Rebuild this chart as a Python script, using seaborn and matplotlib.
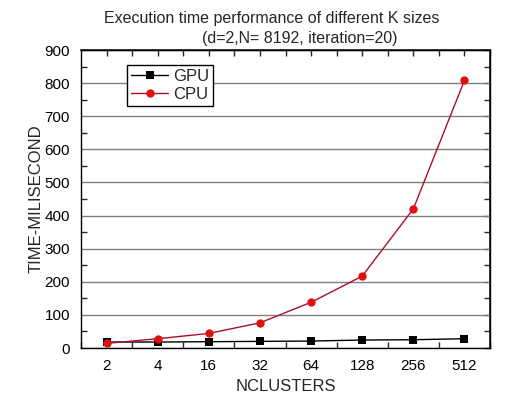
import seaborn as sns
import pandas as pd
import matplotlib.pyplot as plt
from matplotlib.ticker import MultipleLocator

nclusters = ["2", "4", "16", "32", "64", "128", "256", "512"]
gpu_ms = [18, 18, 19, 20, 21, 24, 25, 28]
cpu_ms = [14, 28, 44, 76, 138, 217, 420, 808]

pos = list(range(len(nclusters)))
df = pd.concat([
    pd.DataFrame({"pos": pos, "time": gpu_ms, "Kind": "GPU"}),
    pd.DataFrame({"pos": pos, "time": cpu_ms, "Kind": "CPU"}),
])

sns.set_theme(style="white")
plt.rcParams["font.family"] = ["Liberation Sans", "DejaVu Sans"]

fig = plt.figure(figsize=(5.25, 4.12), dpi=100)
ax = fig.add_axes([81 / 525, 1 - 348 / 412, (490 - 81) / 525, (348 - 50) / 412])

sns.lineplot(data=df[df["Kind"] == "GPU"], x="pos", y="time", ax=ax,
             color="black", marker="s", markersize=5.5, markeredgewidth=0,
             linewidth=1, label="GPU")
sns.lineplot(data=df[df["Kind"] == "CPU"], x="pos", y="time", ax=ax,
             color="#a8102a", marker="o", markersize=6, markerfacecolor="#e01010",
             markeredgecolor="#e01010", markeredgewidth=0, linewidth=1, label="CPU")

ax.set_xlim(-0.5, len(nclusters) - 0.5)
ax.set_ylim(0, 900)
ax.set_xticks(pos)
ax.set_xticklabels(nclusters)
ax.yaxis.set_major_locator(MultipleLocator(100))
ax.yaxis.set_minor_locator(MultipleLocator(50))
ax.xaxis.set_minor_locator(MultipleLocator(0.5))
ax.grid(which="major", axis="y", color="#808080", linewidth=1)
ax.set_axisbelow(True)

for s in ax.spines.values():
    s.set_color("black")
    s.set_linewidth(1)

ax.tick_params(axis="both", which="major", direction="out", length=5, width=1,
               labelsize=11, colors="black", pad=3)
ax.tick_params(axis="both", which="minor", direction="in", length=4, width=1,
               bottom=True, left=True)

# top and right ticks point inward
sec_x = ax.secondary_xaxis("top")
sec_x.set_xticks([p / 2 - 0.5 for p in range(1, 2 * len(nclusters) + 1)])
sec_x.tick_params(direction="in", length=4, width=1)
sec_x.set_xticklabels([])
sec_y = ax.secondary_yaxis("right")
sec_y.set_yticks(range(0, 901, 50))
sec_y.tick_params(direction="in", length=4, width=1)
sec_y.set_yticklabels([])

ax.set_xlabel("NCLUSTERS", fontsize=12, labelpad=4)
ax.set_ylabel("TIME-MILISECOND", fontsize=12)
ax.yaxis.set_label_coords(-37 / 409, 0.5)

ax.legend(loc="upper left", bbox_to_anchor=(46 / 409, 0.95), borderaxespad=0,
          fontsize=12, frameon=True, fancybox=False, edgecolor="black",
          framealpha=1, handlelength=2.2, handletextpad=0.3, borderpad=0.25,
          labelspacing=0.15)

fig.text(272 / 525, 1 - 18 / 412, "Execution time performance of different K sizes",
         ha="center", va="center", fontsize=11.5)
fig.text(300 / 525, 1 - 39 / 412, "(d=2,N= 8192, iteration=20)",
         ha="center", va="center", fontsize=11.5)

fig.savefig("out.png", dpi=100)
